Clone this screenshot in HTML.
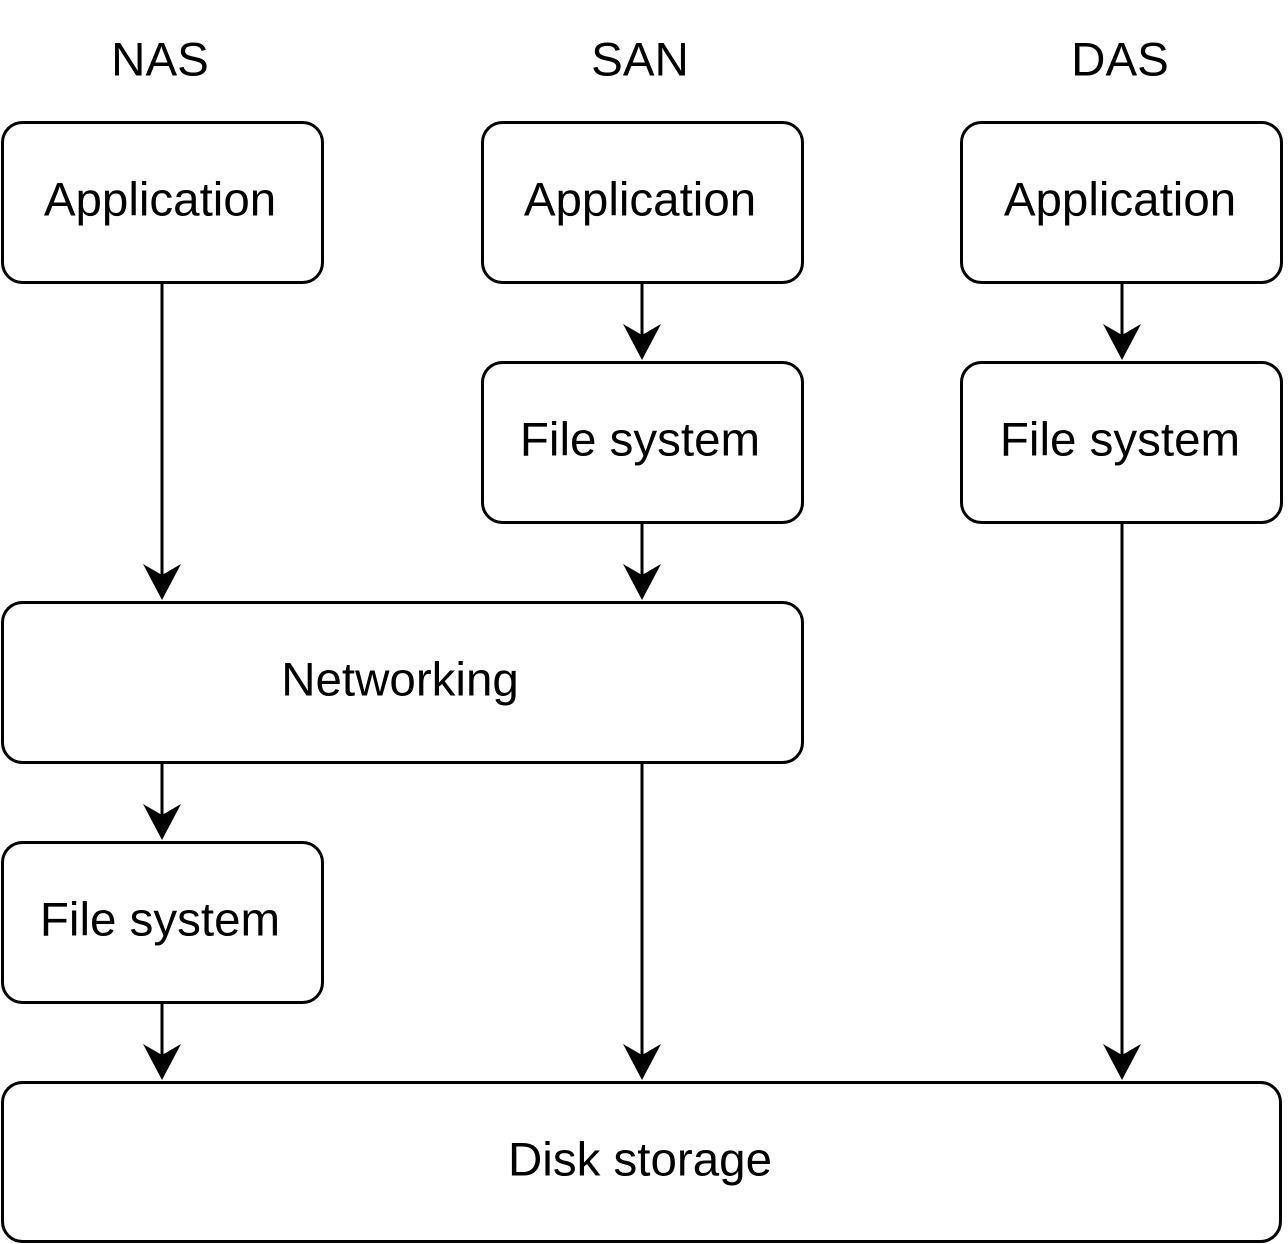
<!DOCTYPE html>
<html><head><meta charset="utf-8"><style>
html,body{margin:0;padding:0;background:#fff;}
svg{display:block;}
text{font-family:"Liberation Sans",Arial,sans-serif;font-size:47.5px;fill:#000;text-anchor:middle;dominant-baseline:central;}
</style></head><body>
<svg width="1288" height="1244" viewBox="0 0 1288 1244" xmlns="http://www.w3.org/2000/svg">
<g fill="none" stroke="#000" stroke-width="3">
<rect x="2.5" y="122.5" width="320" height="160" rx="20"/>
<rect x="482.5" y="122.5" width="320" height="160" rx="20"/>
<rect x="961.5" y="122.5" width="320" height="160" rx="20"/>
<rect x="482.5" y="362.5" width="320" height="160" rx="20"/>
<rect x="961.5" y="362.5" width="320" height="160" rx="20"/>
<rect x="2.5" y="602.5" width="800" height="160" rx="20"/>
<rect x="2.5" y="842.5" width="320" height="160" rx="20"/>
<rect x="2.5" y="1082.5" width="1278" height="159" rx="20"/>
<line x1="162" y1="283" x2="162" y2="578"/>
<line x1="642" y1="283" x2="642" y2="338"/>
<line x1="1122" y1="283" x2="1122" y2="338"/>
<line x1="642" y1="523" x2="642" y2="578"/>
<line x1="162" y1="763" x2="162" y2="818"/>
<line x1="642" y1="763" x2="642" y2="1058"/>
<line x1="162" y1="1003" x2="162" y2="1058"/>
<line x1="1122" y1="523" x2="1122" y2="1058"/>
</g>
<g fill="#000">
<polygon points="162,600 143,564 162,575 181,564"/>
<polygon points="642,360 623,324 642,335 661,324"/>
<polygon points="1122,360 1103,324 1122,335 1141,324"/>
<polygon points="642,600 623,564 642,575 661,564"/>
<polygon points="162,840 143,804 162,815 181,804"/>
<polygon points="162,1080 143,1044 162,1055 181,1044"/>
<polygon points="642,1080 623,1044 642,1055 661,1044"/>
<polygon points="1122,1080 1103,1044 1122,1055 1141,1044"/>
</g>
<text x="160" y="60">NAS</text>
<text x="640" y="60">SAN</text>
<text x="1120" y="60">DAS</text>
<text x="160" y="200">Application</text>
<text x="640" y="200">Application</text>
<text x="1120" y="200">Application</text>
<text x="640" y="440">File system</text>
<text x="1120" y="440">File system</text>
<text x="400" y="680">Networking</text>
<text x="160" y="920">File system</text>
<text x="640" y="1160">Disk storage</text>
</svg>
</body></html>
